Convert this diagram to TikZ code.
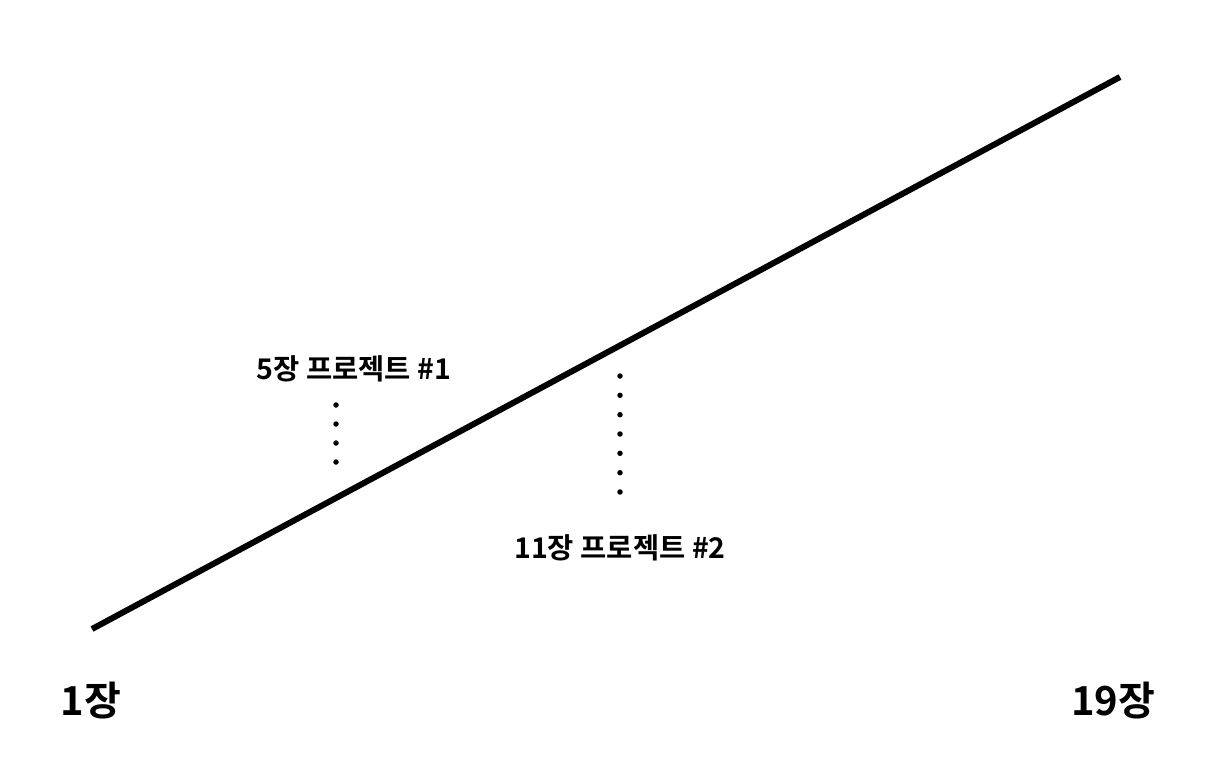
\documentclass[tikz,border=0pt]{standalone}
\usepackage{fontspec}
\newfontfamily\kr{Noto Sans CJK KR Bold}
\tikzset{
  chap/.style={font=\kr\fontsize{40}{42}\selectfont, inner sep=0pt},
  proj/.style={font=\kr\fontsize{28.5}{30}\selectfont, inner sep=0pt},
  pt/.style={fill=black, circle, inner sep=0pt, minimum size=5.5pt}
}
\begin{document}
\begin{tikzpicture}[x=1pt,y=-1pt]
        \useasboundingbox (0,0) rectangle (1224,782);
        \coordinate (start) at (92,629);
        \coordinate (end) at (1120,77);
        \draw[line width=6pt] (start) -- (end);
        \node[chap] (first) at (91,701) {1장};
        \node[chap] (last) at (1113,701) {19장};
        \node[proj] (p1) at (354,369) {5장 프로젝트 \#1};
        \node[proj] (p2) at (620,548) {11장 프로젝트 \#2};
        \foreach \y in {405,424,443,462}
            \node[pt] at (336,\y) {};
        \foreach \y in {376,395.3,414.7,434,453.3,472.7,492}
            \node[pt] at (620,\y) {};
    \end{tikzpicture}
\end{document}
